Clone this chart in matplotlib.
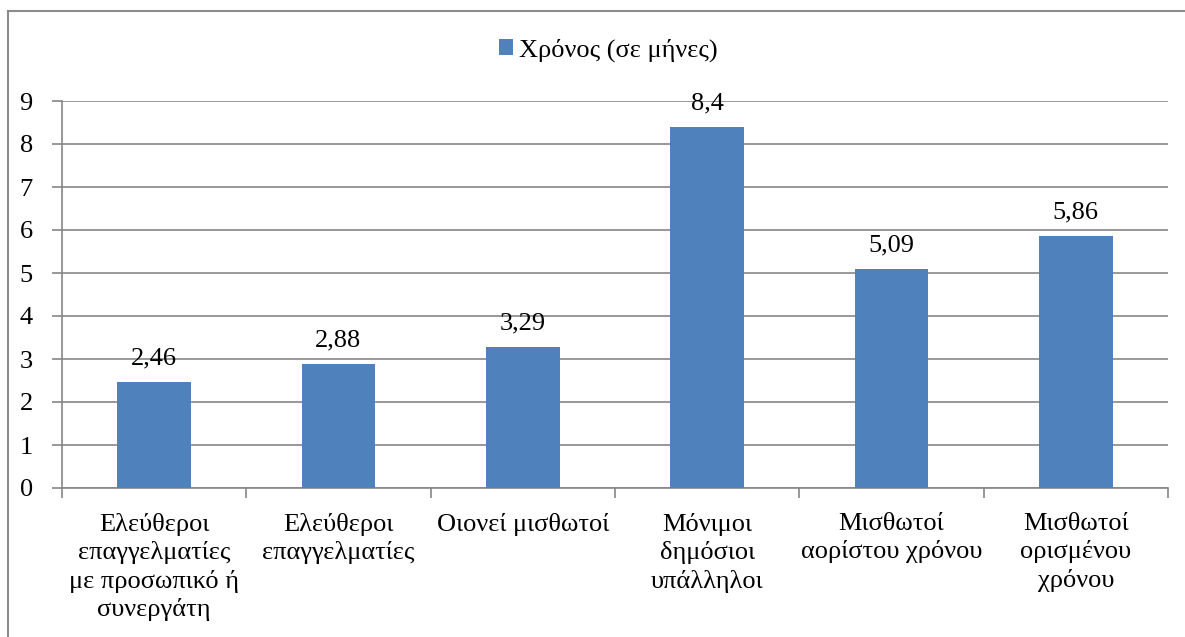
import matplotlib
matplotlib.use("Agg")
from matplotlib import pyplot as plt
from matplotlib.lines import Line2D

categories = [
    "Ελεύθεροι\nεπαγγελματίες\nμε προσωπικό ή\nσυνεργάτη",
    "Ελεύθεροι\nεπαγγελματίες",
    "Οιονεί μισθωτοί",
    "Μόνιμοι\nδημόσιοι\nυπάλληλοι",
    "Μισθωτοί\nαορίστου χρόνου",
    "Μισθωτοί\nορισμένου\nχρόνου",
]
values = [2.46, 2.88, 3.29, 8.4, 5.09, 5.86]
series_name = "Χρόνος (σε μήνες)"

FAM = "Liberation Serif"
FS = 19

W, H = 1185, 637
fig = plt.figure(figsize=(W / 100, H / 100), dpi=100)
ax = fig.add_axes([62 / W, 1 - 488 / H, (1168 - 62) / W, (488 - 101) / H])

blue = "#4F81BD"
grid = "#868686"
x = list(range(len(values)))
bars = ax.bar(x, values, width=0.4, color=blue, label=series_name, zorder=3)

# value labels above the bars, decimal comma
for xi, v in zip(x, values):
    ax.annotate(f"{v:g}".replace(".", ","), (xi, v), xytext=(0, 9),
                textcoords="offset points", ha="center", va="bottom",
                fontsize=FS, family=FAM)

ax.set_xlim(-0.5, len(values) - 0.5)
ax.set_ylim(0, 9)
ax.set_yticks(range(0, 10))
ax.set_yticklabels([str(i) for i in range(0, 10)], family=FAM, fontsize=FS)
ax.yaxis.grid(True, color=grid, linewidth=1.2, zorder=0)
ax.set_axisbelow(True)

# tick marks between categories, labels centred under bars
ax.set_xticks([i - 0.5 for i in range(len(values) + 1)])
ax.set_xticklabels([])
ax.set_xticks(x, minor=True)
ax.set_xticklabels(categories, minor=True, linespacing=1.3, family=FAM, fontsize=FS)
ax.tick_params(axis="x", which="minor", length=0, pad=18)
ax.tick_params(axis="x", which="major", length=7, color=grid, width=1.2)
ax.tick_params(axis="y", length=7, color=grid, width=1.2, pad=14)

for s in ["top", "right"]:
    ax.spines[s].set_visible(False)
for s in ["left", "bottom"]:
    ax.spines[s].set_color(grid)
    ax.spines[s].set_linewidth(1.2)

ax.legend(loc="center", bbox_to_anchor=(608 / W, 1 - 50 / H), bbox_transform=fig.transFigure,
          frameon=False, handlelength=0.55, handleheight=0.55, handletextpad=0.2,
          prop={"family": FAM, "size": FS})

# outer chart border (right and bottom edges are cut off in the reference)
fig.add_artist(Line2D([8 / W, 8 / W], [0, 1 - 11 / H], color="#8C8C8C", linewidth=1.5))
fig.add_artist(Line2D([8 / W, 1], [1 - 11 / H, 1 - 11 / H], color="#8C8C8C", linewidth=1.5))

fig.savefig("out.png", dpi=100)
